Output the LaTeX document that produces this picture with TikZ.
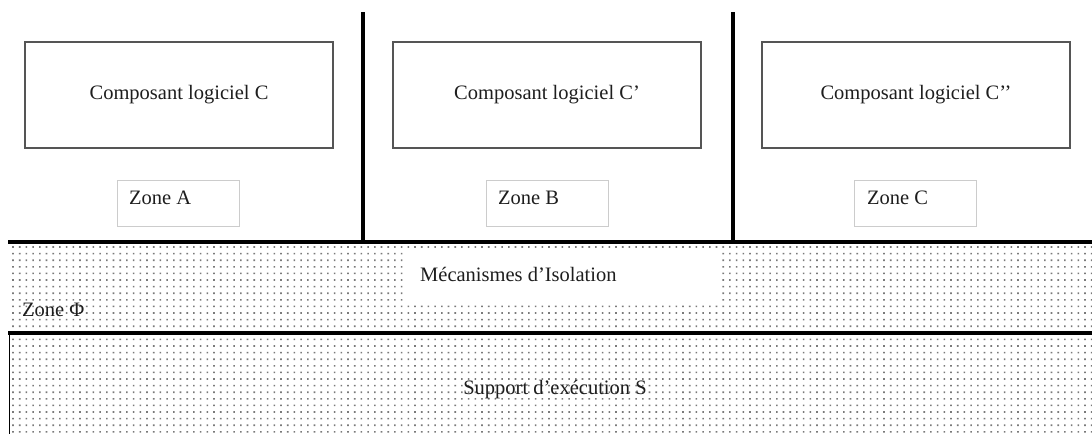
\documentclass[tikz,border=0pt]{standalone}
\usepackage{fontspec}
\setmainfont{Liberation Serif}
\definecolor{txt}{HTML}{1E1E1E}
\definecolor{boxline}{HTML}{555555}
\definecolor{zoneline}{HTML}{CCCCCC}
\definecolor{dotcol}{HTML}{7A7A7A}
\tikzset{
  compbox/.style={draw=boxline, line width=1.3pt, minimum width=308pt, minimum height=106pt, inner sep=0pt, text=txt, font=\fontsize{20.5}{24}\selectfont},
  zonebox/.style={draw=zoneline, line width=1pt, minimum width=122pt, minimum height=46pt, inner sep=0pt, anchor=north west},
  zonetxt/.style={text=txt, font=\fontsize{20.5}{24}\selectfont, anchor=west, inner sep=0pt},
  thick line/.style={line width=4pt, black},
}
\begin{document}
\begin{tikzpicture}[x=1pt,y=-1pt]
\useasboundingbox (0,0) rectangle (1092,434);
% dotted layers
\foreach \j in {0,...,28} {
  \fill[dotcol] \foreach \i in {0,...,161} { (12.2+\i*6.7, 246.2+\j*6.6) rectangle ++(1.6,1.6) };
}
% white box for isolation mechanisms
\node[fill=white, minimum width=314pt, minimum height=52pt, inner sep=0pt, anchor=north west] (mecbox) at (406,249) {};
\node[zonetxt] (mec) at (420,274) {Mécanismes d’Isolation};
\node[zonetxt] (phi) at (22,310) {Zone \symbol{"03A6}};
\node[text=txt, font=\fontsize{20.5}{24}\selectfont, inner sep=0pt] (sup) at (555,390) {Support d’exécution S};
% left border of lower layer
\draw[line width=1pt] (9,333) -- (9,434);
% horizontal thick lines
\coordinate (h1l) at (8,242); \coordinate (h1r) at (1092,242);
\coordinate (h2l) at (8,333); \coordinate (h2r) at (1092,333);
\draw[thick line] (h1l) -- (h1r);
\draw[thick line] (h2l) -- (h2r);
% vertical separators
\coordinate (v1t) at (363,12); \coordinate (v1b) at (363,242);
\coordinate (v2t) at (733,12); \coordinate (v2b) at (733,242);
\draw[thick line] (v1t) -- (v1b);
\draw[thick line] (v2t) -- (v2b);
% software components
\node[compbox] (c1) at (179,95) {Composant logiciel C};
\node[compbox] (c2) at (547,95) {Composant logiciel C’};
\node[compbox] (c3) at (916,95) {Composant logiciel C’’};
% zones
\node[zonebox] (za) at (117,180) {};
\node[zonebox] (zb) at (486,180) {};
\node[zonebox] (zc) at (854,180) {};
\node[zonetxt] (zat) at (129,198) {Zone A};
\node[zonetxt] (zbt) at (498,198) {Zone B};
\node[zonetxt] (zct) at (867,198) {Zone C};
\end{tikzpicture}
\end{document}
